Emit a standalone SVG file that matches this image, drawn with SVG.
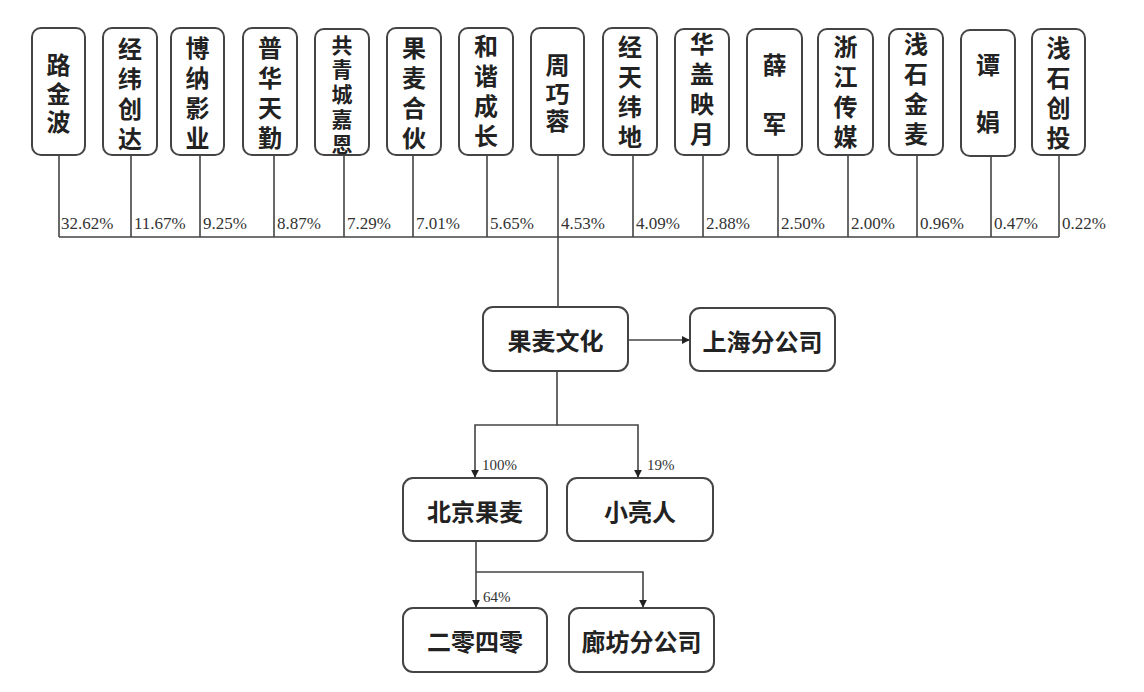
<svg xmlns="http://www.w3.org/2000/svg" width="1144" height="692" viewBox="0 0 1144 692">
<defs>
<style>
.box{fill:#fff;stroke:#444;stroke-width:2}
.v{font-family:"Noto Sans CJK SC","Noto Sans CJK JP",sans-serif;font-size:24px;font-weight:bold;fill:#222;text-anchor:middle;dominant-baseline:central}
.s{font-size:21px}
.h{font-family:"Noto Sans CJK SC","Noto Sans CJK JP",sans-serif;font-size:24px;font-weight:bold;fill:#222;text-anchor:middle;dominant-baseline:central}
.p{font-family:"Liberation Serif","Times New Roman",serif;font-size:17px;fill:#333}
.q{font-family:"Liberation Serif","Times New Roman",serif;font-size:15px;fill:#333}
.ln{fill:none;stroke:#444;stroke-width:1.6}
</style>
<marker id="ah" viewBox="0 0 10 10" refX="9" refY="5" markerWidth="5" markerHeight="5" orient="auto">
<path d="M0,0 L10,5 L0,10 z" fill="#222"/>
</marker>
</defs>
<rect width="1144" height="692" fill="#fff"/>

<g id="connectors">
<path class="ln" d="M59,155V237M131,155V237M200,155V237M274,155V237M344,155V237M413,155V237M487,155V237M558,155V237M633,155V237M703,155V237M778,155V237M848,155V237M917,155V237M991,156V237M1059,155V237M59,237H1059M558,237V307"/>
<path class="ln" d="M628,340H689" marker-end="url(#ah)"/>
<path class="ln" d="M557,371V425H475V477" marker-end="url(#ah)"/>
<path class="ln" d="M557,425H638V477" marker-end="url(#ah)"/>
<path class="ln" d="M476,541V572V607" marker-end="url(#ah)"/>
<path class="ln" d="M476,572H643V607" marker-end="url(#ah)"/>
<text class="p" x="61" y="229">32.62%</text>
<text class="p" x="134" y="229">11.67%</text>
<text class="p" x="203" y="229">9.25%</text>
<text class="p" x="277" y="229">8.87%</text>
<text class="p" x="347" y="229">7.29%</text>
<text class="p" x="416" y="229">7.01%</text>
<text class="p" x="490" y="229">5.65%</text>
<text class="p" x="561" y="229">4.53%</text>
<text class="p" x="636" y="229">4.09%</text>
<text class="p" x="706" y="229">2.88%</text>
<text class="p" x="781" y="229">2.50%</text>
<text class="p" x="851" y="229">2.00%</text>
<text class="p" x="920" y="229">0.96%</text>
<text class="p" x="994" y="229">0.47%</text>
<text class="p" x="1062" y="229">0.22%</text>
<text class="q" x="482" y="470">100%</text>
<text class="q" x="647" y="470">19%</text>
<text class="q" x="483" y="602">64%</text>
</g>

<g id="n1"><rect class="box" x="32" y="28" width="53" height="127" rx="9"/>
<text class="v" x="58.5" y="63">路</text><text class="v" x="58.5" y="92">金</text><text class="v" x="58.5" y="120">波</text></g>
<g id="n2"><rect class="box" x="103" y="28" width="54" height="127" rx="9"/>
<text class="v" x="130" y="47">经</text><text class="v" x="130" y="77">纬</text><text class="v" x="130" y="107">创</text><text class="v" x="130" y="137">达</text></g>
<g id="n3"><rect class="box" x="171" y="28" width="53" height="127" rx="9"/>
<text class="v" x="197.5" y="46">博</text><text class="v" x="197.5" y="76">纳</text><text class="v" x="197.5" y="106">影</text><text class="v" x="197.5" y="136">业</text></g>
<g id="n4"><rect class="box" x="243" y="28" width="54" height="127" rx="9"/>
<text class="v" x="270" y="46">普</text><text class="v" x="270" y="76">华</text><text class="v" x="270" y="106">天</text><text class="v" x="270" y="136">勤</text></g>
<g id="n5"><rect class="box" x="315" y="29" width="54" height="126" rx="9"/>
<text class="v s" x="342" y="44">共</text><text class="v s" x="342" y="68">青</text><text class="v s" x="342" y="93">城</text><text class="v s" x="342" y="118">嘉</text><text class="v s" x="342" y="143">恩</text></g>
<g id="n6"><rect class="box" x="387" y="28" width="54" height="127" rx="9"/>
<text class="v" x="414" y="46">果</text><text class="v" x="414" y="76">麦</text><text class="v" x="414" y="106">合</text><text class="v" x="414" y="136">伙</text></g>
<g id="n7"><rect class="box" x="459" y="28" width="54" height="127" rx="9"/>
<text class="v" x="486" y="44">和</text><text class="v" x="486" y="74">谐</text><text class="v" x="486" y="104">成</text><text class="v" x="486" y="134">长</text></g>
<g id="n8"><rect class="box" x="531" y="28" width="53" height="127" rx="9"/>
<text class="v" x="557.5" y="63">周</text><text class="v" x="557.5" y="92">巧</text><text class="v" x="557.5" y="119">蓉</text></g>
<g id="n9"><rect class="box" x="603" y="28" width="54" height="127" rx="9"/>
<text class="v" x="630" y="45">经</text><text class="v" x="630" y="75">天</text><text class="v" x="630" y="105">纬</text><text class="v" x="630" y="135">地</text></g>
<g id="n10"><rect class="box" x="675" y="29" width="54" height="126" rx="9"/>
<text class="v" x="702" y="42">华</text><text class="v" x="702" y="72">盖</text><text class="v" x="702" y="102">映</text><text class="v" x="702" y="132">月</text></g>
<g id="n11"><rect class="box" x="747" y="29" width="55" height="126" rx="9"/>
<text class="v" x="774.5" y="63">薛</text><text class="v" x="774.5" y="122">军</text></g>
<g id="n12"><rect class="box" x="818" y="29" width="55" height="126" rx="9"/>
<text class="v" x="845.5" y="45">浙</text><text class="v" x="845.5" y="75">江</text><text class="v" x="845.5" y="105">传</text><text class="v" x="845.5" y="135">媒</text></g>
<g id="n13"><rect class="box" x="889" y="29" width="54" height="126" rx="9"/>
<text class="v" x="916" y="42">浅</text><text class="v" x="916" y="72">石</text><text class="v" x="916" y="102">金</text><text class="v" x="916" y="132">麦</text></g>
<g id="n14"><rect class="box" x="961" y="30" width="54" height="126" rx="9"/>
<text class="v" x="988" y="63">谭</text><text class="v" x="988" y="120">娟</text></g>
<g id="n15"><rect class="box" x="1032" y="29" width="53" height="126" rx="9"/>
<text class="v" x="1058.5" y="46">浅</text><text class="v" x="1058.5" y="76">石</text><text class="v" x="1058.5" y="106">创</text><text class="v" x="1058.5" y="136">投</text></g>

<g id="guomai"><rect class="box" x="483" y="307" width="145" height="64" rx="10"/><text class="h" x="555.5" y="339">果麦文化</text></g>
<g id="shanghai"><rect class="box" x="690" y="308" width="145" height="63" rx="10"/><text class="h" x="762.5" y="340">上海分公司</text></g>
<g id="beijing"><rect class="box" x="403" y="478" width="144" height="63" rx="10"/><text class="h" x="475" y="510">北京果麦</text></g>
<g id="xiaoliangren"><rect class="box" x="567" y="478" width="146" height="63" rx="10"/><text class="h" x="640" y="510">小亮人</text></g>
<g id="erlingsiling"><rect class="box" x="403" y="608" width="144" height="64" rx="10"/><text class="h" x="475" y="640">二零四零</text></g>
<g id="langfang"><rect class="box" x="569" y="608" width="145" height="64" rx="10"/><text class="h" x="641.5" y="640">廊坊分公司</text></g>
</svg>
